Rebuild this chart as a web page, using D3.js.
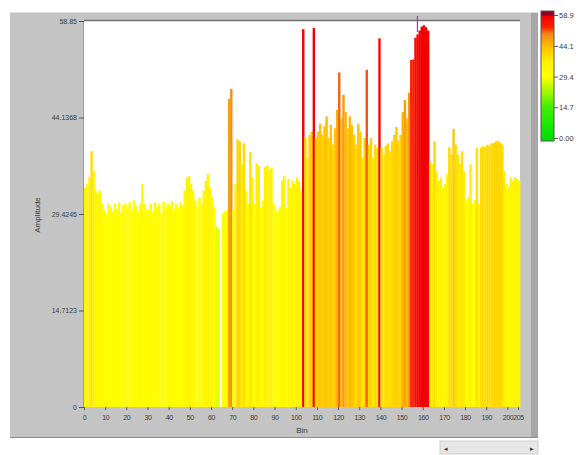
<!DOCTYPE html>
<html>
<head>
<meta charset="utf-8">
<script src="https://cdn.jsdelivr.net/npm/d3@7"></script>
<style>
  body { margin: 0; background: #fff; }
  svg { display: block; }
  text { font-family: 'Liberation Sans', Arial, sans-serif; fill: #3a3a3a; }
</style>
</head>
<body>
<div class="chart-view"></div>
<script>
// bin index -> amplitude
const bins = d3.range(0, 206);
const amplitude = [
  33.5, 34, 35, 39, 36, 33, 32.5, 33, 31, 30,
  29.5, 31, 30.5, 29.8, 31, 30.2, 31.2, 29.6, 30.8, 31,
  30.5, 31.2, 30, 31.5, 30.6, 29.8, 31, 34, 31, 30.2,
  30, 31, 29.8, 31.2, 30.5, 31, 29.6, 31.3, 30.4, 31,
  30.7, 31.4, 30, 31, 30.5, 31.2, 30.8, 33, 35, 35.2,
  34, 33, 31.5, 30.5, 32, 31, 33, 34.5, 35.5, 33.5,
  32, 30.5, 27.5, 27.2, 0, 29.5, 29.8, 30, 47, 48.5,
  30, 34, 40.8, 40.5, 37, 40.2, 33, 31, 38.9, 35,
  31, 37.2, 36.8, 30.5, 31.5, 36.6, 36.8, 36.2, 36.5, 31,
  30, 29.8, 30.5, 34.5, 35.2, 30.4, 34.8, 33.5, 34.5, 34,
  35, 34.5, 33, 57.6, 41, 38, 41.5, 42, 57.8, 41,
  42, 43.2, 41.5, 42.8, 44.3, 41, 43, 40, 42.5, 45.3,
  51, 44, 47.6, 45, 42.5, 44.3, 43, 41.5, 40, 43.2,
  42, 38, 41, 51.4, 40, 41, 38, 40, 39.5, 56.2,
  39.5, 38.5, 39.8, 40.2, 39, 40.5, 41.5, 42.7, 40.6, 41.5,
  45, 46.8, 44, 47.9, 52.9, 53, 56.3, 56.8, 57.4, 58,
  58.2, 57.9, 57.4, 37.5, 37, 40.5, 36, 34.5, 35, 33.5,
  34, 35.5, 39.6, 38.5, 42.4, 40, 38.5, 37.2, 39, 36,
  31.5, 32, 37, 31, 31.5, 39.5, 31, 39.5, 39.8, 39.6,
  40, 39.8, 40.2, 40.3, 40.5, 40.6, 40.3, 40, 36, 34,
  33.5, 35, 34.5, 35, 34.8, 34.5
];
const xTicks = [0, 10, 20, 30, 40, 50, 60, 70, 80, 90, 100, 110, 120, 130, 140, 150, 160, 170, 180, 190, 200, 205];
const yTicks = [0, 14.7123, 29.4245, 44.1368, 58.85];
const yTickLabels = ['0', '14.7123', '29.4245', '44.1368', '58.85'];
const colorTicks = [0, 14.7, 29.4, 44.1, 58.9];
const colorTickLabels = ['0.00', '14.7', '29.4', '44.1', '58.9'];
const colorStops = [0, 14.7, 29.4, 37, 44.1, 50, 53, 58.3, 58.9];
const colorRamp = ['#00e000', '#40f000', '#ffff00', '#fff000', '#ffbc00', '#f08418', '#ff2000', '#f00000', '#900020'];
const cursorBin = 157.5;

const Width = 579;
const Height = 455;
const plot = { left: 84, right: 520, top: 21, bottom: 407 };

const svg = d3.select('.chart-view').append('svg').attr('width', Width).attr('height', Height);

// grey panel
svg.append('rect').attr('x', 10).attr('y', 12).attr('width', 528).attr('height', 426).attr('fill', '#c4c4c4');
svg.append('rect').attr('x', 531).attr('y', 12).attr('width', 7).attr('height', 426).attr('fill', '#a6a6a6');
svg.append('line').attr('x1', 10).attr('x2', 538).attr('y1', 12.5).attr('y2', 12.5).attr('stroke', '#dedede');
svg.append('line').attr('x1', 10).attr('x2', 538).attr('y1', 437.5).attr('y2', 437.5).attr('stroke', '#8e8e8e');

// plot area
svg.append('rect').attr('x', plot.left).attr('y', plot.top).attr('width', plot.right - plot.left)
  .attr('height', plot.bottom - plot.top).attr('fill', '#fff');

const x = d3.scaleLinear().domain([0, 205]).range([plot.left, plot.right - 2]);
const y = d3.scaleLinear().domain([0, 58.85]).range([plot.bottom, plot.top]);
const color = d3.scaleLinear().domain(colorStops).range(colorRamp).clamp(true);
const barW = x(1) - x(0);

svg.append('g').selectAll('rect').data(bins).enter().append('rect')
  .attr('x', d => x(d))
  .attr('y', d => y(amplitude[d]))
  .attr('width', barW + 0.3)
  .attr('height', d => plot.bottom - y(amplitude[d]))
  .attr('fill', d => color(amplitude[d]));

// plot frame
svg.append('line').attr('x1', plot.left).attr('x2', plot.right).attr('y1', plot.top - 0.5).attr('y2', plot.top - 0.5)
  .attr('stroke', '#6e6e6e').attr('stroke-width', 1.5);
svg.append('line').attr('x1', plot.left - 0.5).attr('x2', plot.left - 0.5).attr('y1', plot.top).attr('y2', plot.bottom)
  .attr('stroke', '#9a9a9a');

// cursor
svg.append('line').attr('x1', x(cursorBin)).attr('x2', x(cursorBin)).attr('y1', 16).attr('y2', 32)
  .attr('stroke', '#9040c0').attr('stroke-width', 1.2);

// axes
const xAxis = svg.append('g').attr('transform', 'translate(0,' + plot.bottom + ')')
  .call(d3.axisBottom(x).tickValues(xTicks).tickSize(3).tickPadding(5).tickFormat(d => d));
const yAxis = svg.append('g').attr('transform', 'translate(' + plot.left + ',0)')
  .call(d3.axisLeft(y).tickValues(yTicks).tickSize(5).tickPadding(2).tickFormat((d, i) => yTickLabels[i]));
[xAxis, yAxis].forEach(a => {
  a.select('.domain').remove();
  a.selectAll('.tick line').attr('stroke', '#555');
  a.selectAll('.tick text').attr('font-size', 7).attr('fill', '#3a3a3a');
});
xAxis.selectAll('.tick text').attr('letter-spacing', -0.4);

svg.append('text').attr('x', 302).attr('y', 433).attr('text-anchor', 'middle').attr('font-size', 8).text('Bin');
svg.append('text').attr('transform', 'translate(40,215) rotate(-90)').attr('text-anchor', 'middle')
  .attr('font-size', 8).text('Amplitude');

// colour ramp
const cb = { x: 541, w: 13, top: 11, bottom: 141 };
const cy = d3.scaleLinear().domain([0, 58.9]).range([cb.bottom - 3, cb.top + 4]);
const grad = svg.append('defs').append('linearGradient').attr('id', 'ramp')
  .attr('x1', 0).attr('x2', 0).attr('y1', 1).attr('y2', 0);
colorStops.forEach((v, i) => {
  grad.append('stop').attr('offset', (cb.bottom - cy(v)) / (cb.bottom - cb.top)).attr('stop-color', colorRamp[i]);
});
svg.append('rect').attr('x', cb.x).attr('y', cb.top).attr('width', cb.w).attr('height', cb.bottom - cb.top)
  .attr('fill', 'url(#ramp)').attr('stroke', '#555').attr('stroke-width', 1);
const cAxis = svg.append('g').attr('transform', 'translate(' + (cb.x + cb.w) + ',0)')
  .call(d3.axisRight(cy).tickValues(colorTicks).tickSize(4).tickPadding(1).tickFormat((d, i) => colorTickLabels[i]));
cAxis.select('.domain').remove();
cAxis.selectAll('.tick line').attr('stroke', '#555');
cAxis.selectAll('.tick text').attr('font-size', 7.5).attr('fill', '#3a3a3a');

// scroll bar
svg.append('rect').attr('x', 440).attr('y', 441).attr('width', 98).attr('height', 13)
  .attr('fill', '#e6e6e6').attr('stroke', '#cfcfcf');
svg.append('text').attr('x', 446).attr('y', 451).attr('text-anchor', 'middle').attr('font-size', 7).attr('fill', '#777').text('\u25C2');
svg.append('text').attr('x', 532).attr('y', 451).attr('text-anchor', 'middle').attr('font-size', 7).attr('fill', '#777').text('\u25B8');
</script>
</body>
</html>
